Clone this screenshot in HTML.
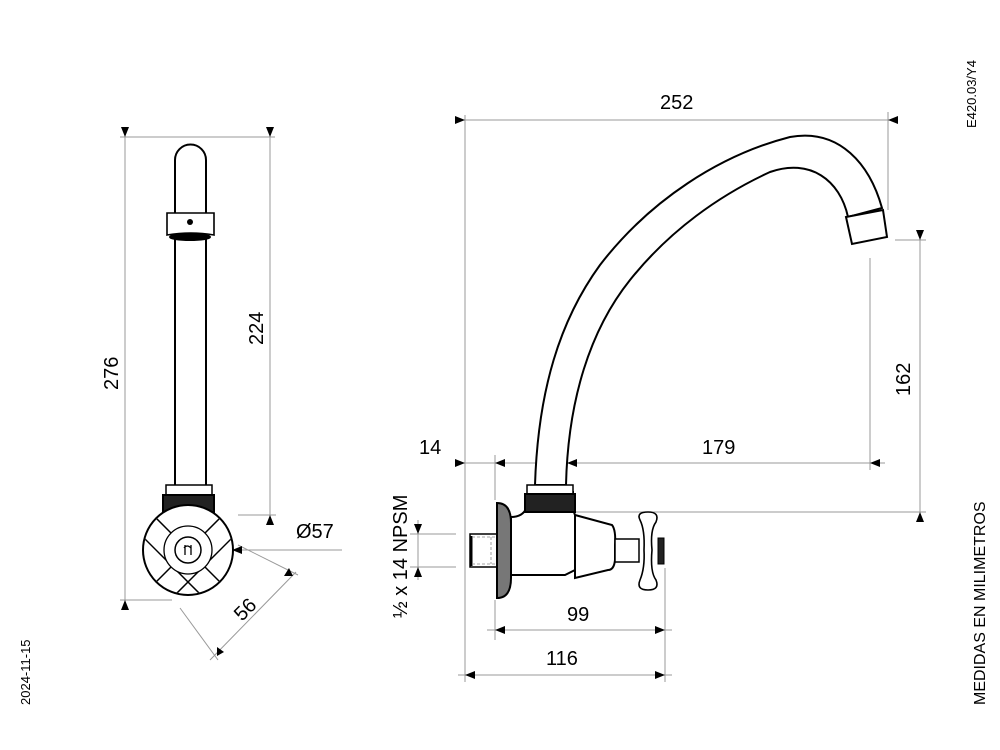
<!DOCTYPE html>
<html><head><meta charset="utf-8"><style>
html,body{margin:0;padding:0;background:#fff;}
svg{display:block;}
text{font-family:"Liberation Sans",sans-serif;fill:#000;}
</style></head><body>
<svg width="1000" height="750" viewBox="0 0 1000 750" xmlns="http://www.w3.org/2000/svg">
<defs>
<clipPath id="cc"><circle cx="188" cy="550" r="44"/></clipPath>
</defs>
<g stroke="#999" stroke-width="1" fill="none">
<line x1="120" y1="137" x2="275" y2="137"/>
<line x1="120" y1="600" x2="172" y2="600"/>
<line x1="238" y1="515" x2="276" y2="515"/>
<line x1="125" y1="128" x2="125" y2="608"/>
<line x1="270" y1="128" x2="270" y2="523"/>
<line x1="238" y1="550" x2="342" y2="550"/>
<line x1="180" y1="608" x2="218" y2="660"/>
<line x1="238" y1="545" x2="298" y2="575"/>
<line x1="210" y1="660" x2="296" y2="572"/>
<line x1="465" y1="115" x2="465" y2="682"/>
<line x1="460" y1="120" x2="898" y2="120"/>
<line x1="888" y1="112" x2="888" y2="210"/>
<line x1="895" y1="240" x2="926" y2="240"/>
<line x1="570" y1="512" x2="926" y2="512"/>
<line x1="920" y1="232" x2="920" y2="520"/>
<line x1="870" y1="258" x2="870" y2="470"/>
<line x1="455" y1="463" x2="885" y2="463"/>
<line x1="495" y1="455" x2="495" y2="500"/>
<line x1="495" y1="600" x2="495" y2="640"/>
<line x1="665" y1="568" x2="665" y2="682"/>
<line x1="487" y1="630" x2="672" y2="630"/>
<line x1="458" y1="675" x2="672" y2="675"/>
<line x1="410" y1="534" x2="456" y2="534"/>
<line x1="410" y1="567" x2="456" y2="567"/>
<line x1="418" y1="520" x2="418" y2="580"/>
</g>
<g fill="#000">
<path d="M125,137l-4,-10h8z"/><path d="M125,600l-4,10h8z"/>
<path d="M270,137l-4,-10h8z"/><path d="M270,515l-4,10h8z"/>
<path d="M232,550l10,-4v8z"/>
<path d="M293,576l-9,0l5,-8z"/>
<path d="M217,656l0,-9l7,5z"/>
<path d="M465,120l-10,-4v8z"/><path d="M888,120l10,-4v8z"/>
<path d="M920,240l-4,-10h8z"/><path d="M920,512l-4,10h8z"/>
<path d="M567,463l10,-4v8z"/><path d="M870,463l10,-4v8z"/>
<path d="M465,463l-10,-4v8z"/><path d="M495,463l10,-4v8z"/>
<path d="M495,630l10,-4v8z"/><path d="M665,630l-10,-4v8z"/>
<path d="M465,675l10,-4v8z"/><path d="M665,675l-10,-4v8z"/>
<path d="M418,534l-4,-10h8z"/><path d="M418,567l-4,10h8z"/>
</g>
<g stroke="#000" stroke-width="2" fill="#fff">
<path d="M175,485V160a15.5,15.5 0 0 1 31,0V485"/>
<path d="M167,213h47v22q-23,-4 -47,0z" stroke-width="1.6"/>
<ellipse cx="190" cy="237" rx="20" ry="3" fill="#000"/>
<rect x="166" y="485" width="46" height="10" stroke-width="1.5"/>
<rect x="163" y="495" width="51" height="17" fill="#222"/>
<circle cx="188" cy="550" r="45"/>
<g clip-path="url(#cc)" stroke-width="1.5">
<line x1="130" y1="508" x2="246" y2="624" transform="translate(-8,8)"/>
<line x1="130" y1="508" x2="246" y2="624" transform="translate(8,-8)"/>
<line x1="246" y1="508" x2="130" y2="624" transform="translate(-8,-8)"/>
<line x1="246" y1="508" x2="130" y2="624" transform="translate(8,8)"/>
</g>
<circle cx="188" cy="550" r="24" stroke-width="1.3"/>
<circle cx="188" cy="550" r="13" stroke-width="1.5"/>
<path d="M535,485C538,390 560,320 600,265C650,200 720,155 790,137C840,128 870,165 882,208L848,217C840,180 810,158 770,172C720,195 670,230 630,280C590,330 568,400 566,485Z"/>
<path d="M846,217L883,210L887,237L852,244Z"/>
<rect x="470" y="534" width="27" height="33" stroke-width="1.5"/>
<line x1="471" y1="536" x2="471" y2="566" stroke-width="3"/>
<path d="M497,503q14,0 14,20v55q0,20 -14,20z" fill="#777"/>
<path d="M511,517q15,0 17,-15v-10h45v13q0,6 2,10v55l-10,5h-54z"/>
<rect x="527" y="485" width="46" height="9" stroke-width="1.5"/>
<rect x="525" y="494" width="50" height="18" fill="#222"/>
<path d="M575,515L612,525Q616,530 615,545V560Q614,570 608,570L575,578Z"/>
<rect x="615" y="539" width="24" height="23" stroke-width="1.5"/>
<path d="M640,520Q636,512 648,512Q660,512 656,522Q650,530 652,550Q650,572 656,580Q660,590 648,590Q636,590 640,580Q645,568 644,550Q645,530 640,520Z" stroke-width="1.6"/>
<rect x="658" y="538" width="6" height="26" fill="#222" stroke-width="1"/>
</g>
<g stroke="#000" fill="none">
<path d="M185,545v10M191,545v10M184,548q3,-4 7,0" stroke-width="1.3"/>
<circle cx="190" cy="222" r="3" fill="#000" stroke="none"/>
<g stroke="#888" stroke-width="0.8" stroke-dasharray="3,2"><line x1="472" y1="537" x2="497" y2="537"/><line x1="472" y1="564" x2="497" y2="564"/><line x1="491" y1="537" x2="491" y2="564"/></g>
</g>
<g font-size="20">
<text x="660" y="109">252</text>
<text x="419" y="454">14</text>
<text x="702" y="454">179</text>
<text x="567" y="621">99</text>
<text x="546" y="665">116</text>
<text x="296" y="538">Ø57</text>
<text transform="translate(910,396) rotate(-90)">162</text>
<text transform="translate(118,390) rotate(-90)">276</text>
<text transform="translate(263,345) rotate(-90)">224</text>
<text transform="translate(242,622) rotate(-45)">56</text>
<text transform="translate(407,618) rotate(-90)">½ x 14 NPSM</text>
</g>
<text font-size="16" transform="translate(985,705) rotate(-90)">MEDIDAS EN MILIMETROS</text>
<g font-size="13">
<text transform="translate(976,128) rotate(-90)">E420.03/Y4</text>
<text transform="translate(30,705) rotate(-90)">2024-11-15</text>
</g>
</svg>
</body></html>
